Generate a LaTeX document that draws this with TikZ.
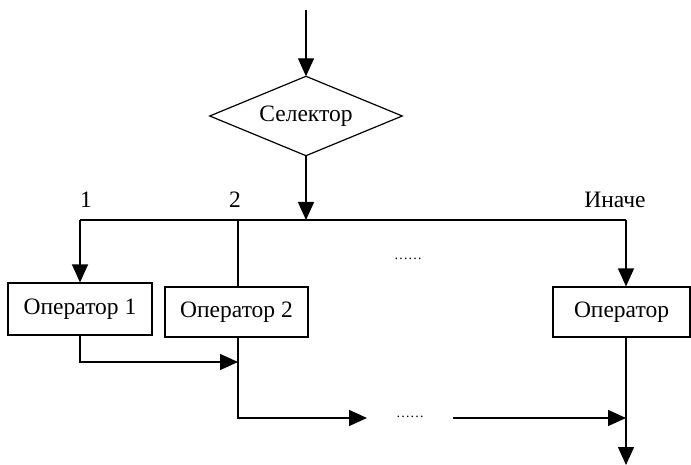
\documentclass[tikz,border=0pt]{standalone}
\usepackage{fontspec}
\setmainfont{Liberation Serif}
\usetikzlibrary{arrows.meta}
\begin{document}
\begin{tikzpicture}[x=1pt,y=-1pt,
  every node/.style={font=\fontsize{23.5}{28}\selectfont},
  line/.style={line width=1.4pt},
  arr/.style={line width=1.4pt,-{Triangle[length=18pt,width=16pt]}},
  opbox/.style={draw,line width=1.2pt,rectangle,inner sep=0pt,minimum height=50pt},
  sel/.style={rectangle,inner sep=0pt,minimum width=192pt,minimum height=79pt},
  lbl/.style={anchor=base,inner sep=0pt},
  dots/.style={inner sep=0pt,font=\fontsize{14}{14}\selectfont}]
\useasboundingbox (0,0) rectangle (691,465);
\node[sel] (s) at (306,116) {Селектор};
\draw[line width=1.2pt] (s.north) -- (s.east) -- (s.south) -- (s.west) -- cycle;
\node[opbox,minimum width=144pt,minimum height=52pt] (b1) at (80,309) {Оператор 1};
\node[opbox,minimum width=143pt] (b2) at (236.5,312) {Оператор 2};
\node[opbox,minimum width=137pt] (b3) at (621.5,312) {Оператор};
\coordinate (top) at (306,10);
\coordinate (js) at (306,220);
\coordinate (j1) at (80,220);
\coordinate (j2) at (238,220);
\coordinate (j3) at (626,220);
\coordinate (m1) at (238,362);
\coordinate (d1) at (367,418);
\coordinate (e1) at (453,418);
\coordinate (m3) at (626,418);
\coordinate (end) at (626,465);
\node[lbl] (l1) at (86,207.5) {1};
\node[lbl] (l2) at (235,207.5) {2};
\node[lbl] (l3) at (615,207.5) {Иначе};
\node[dots] (dt1) at (408,259) {……};
\node[dots] (dt2) at (410,417) {……};
\draw[arr] (top) -- (s.north);
\draw[arr] (s.south) -- (js);
\draw[line] (j1) -- (j3);
\draw[arr] (j1) -- (b1.north);
\draw[line] (j2) -- (j2 |- b2.north);
\draw[arr] (j3) -- (j3 |- b3.north);
\draw[arr] (b1.south) |- (m1);
\draw[arr] (j2 |- b2.south) |- (d1);
\draw[arr] (e1) -- (m3);
\draw[arr] (j3 |- b3.south) -- (end);
\end{tikzpicture}
\end{document}
